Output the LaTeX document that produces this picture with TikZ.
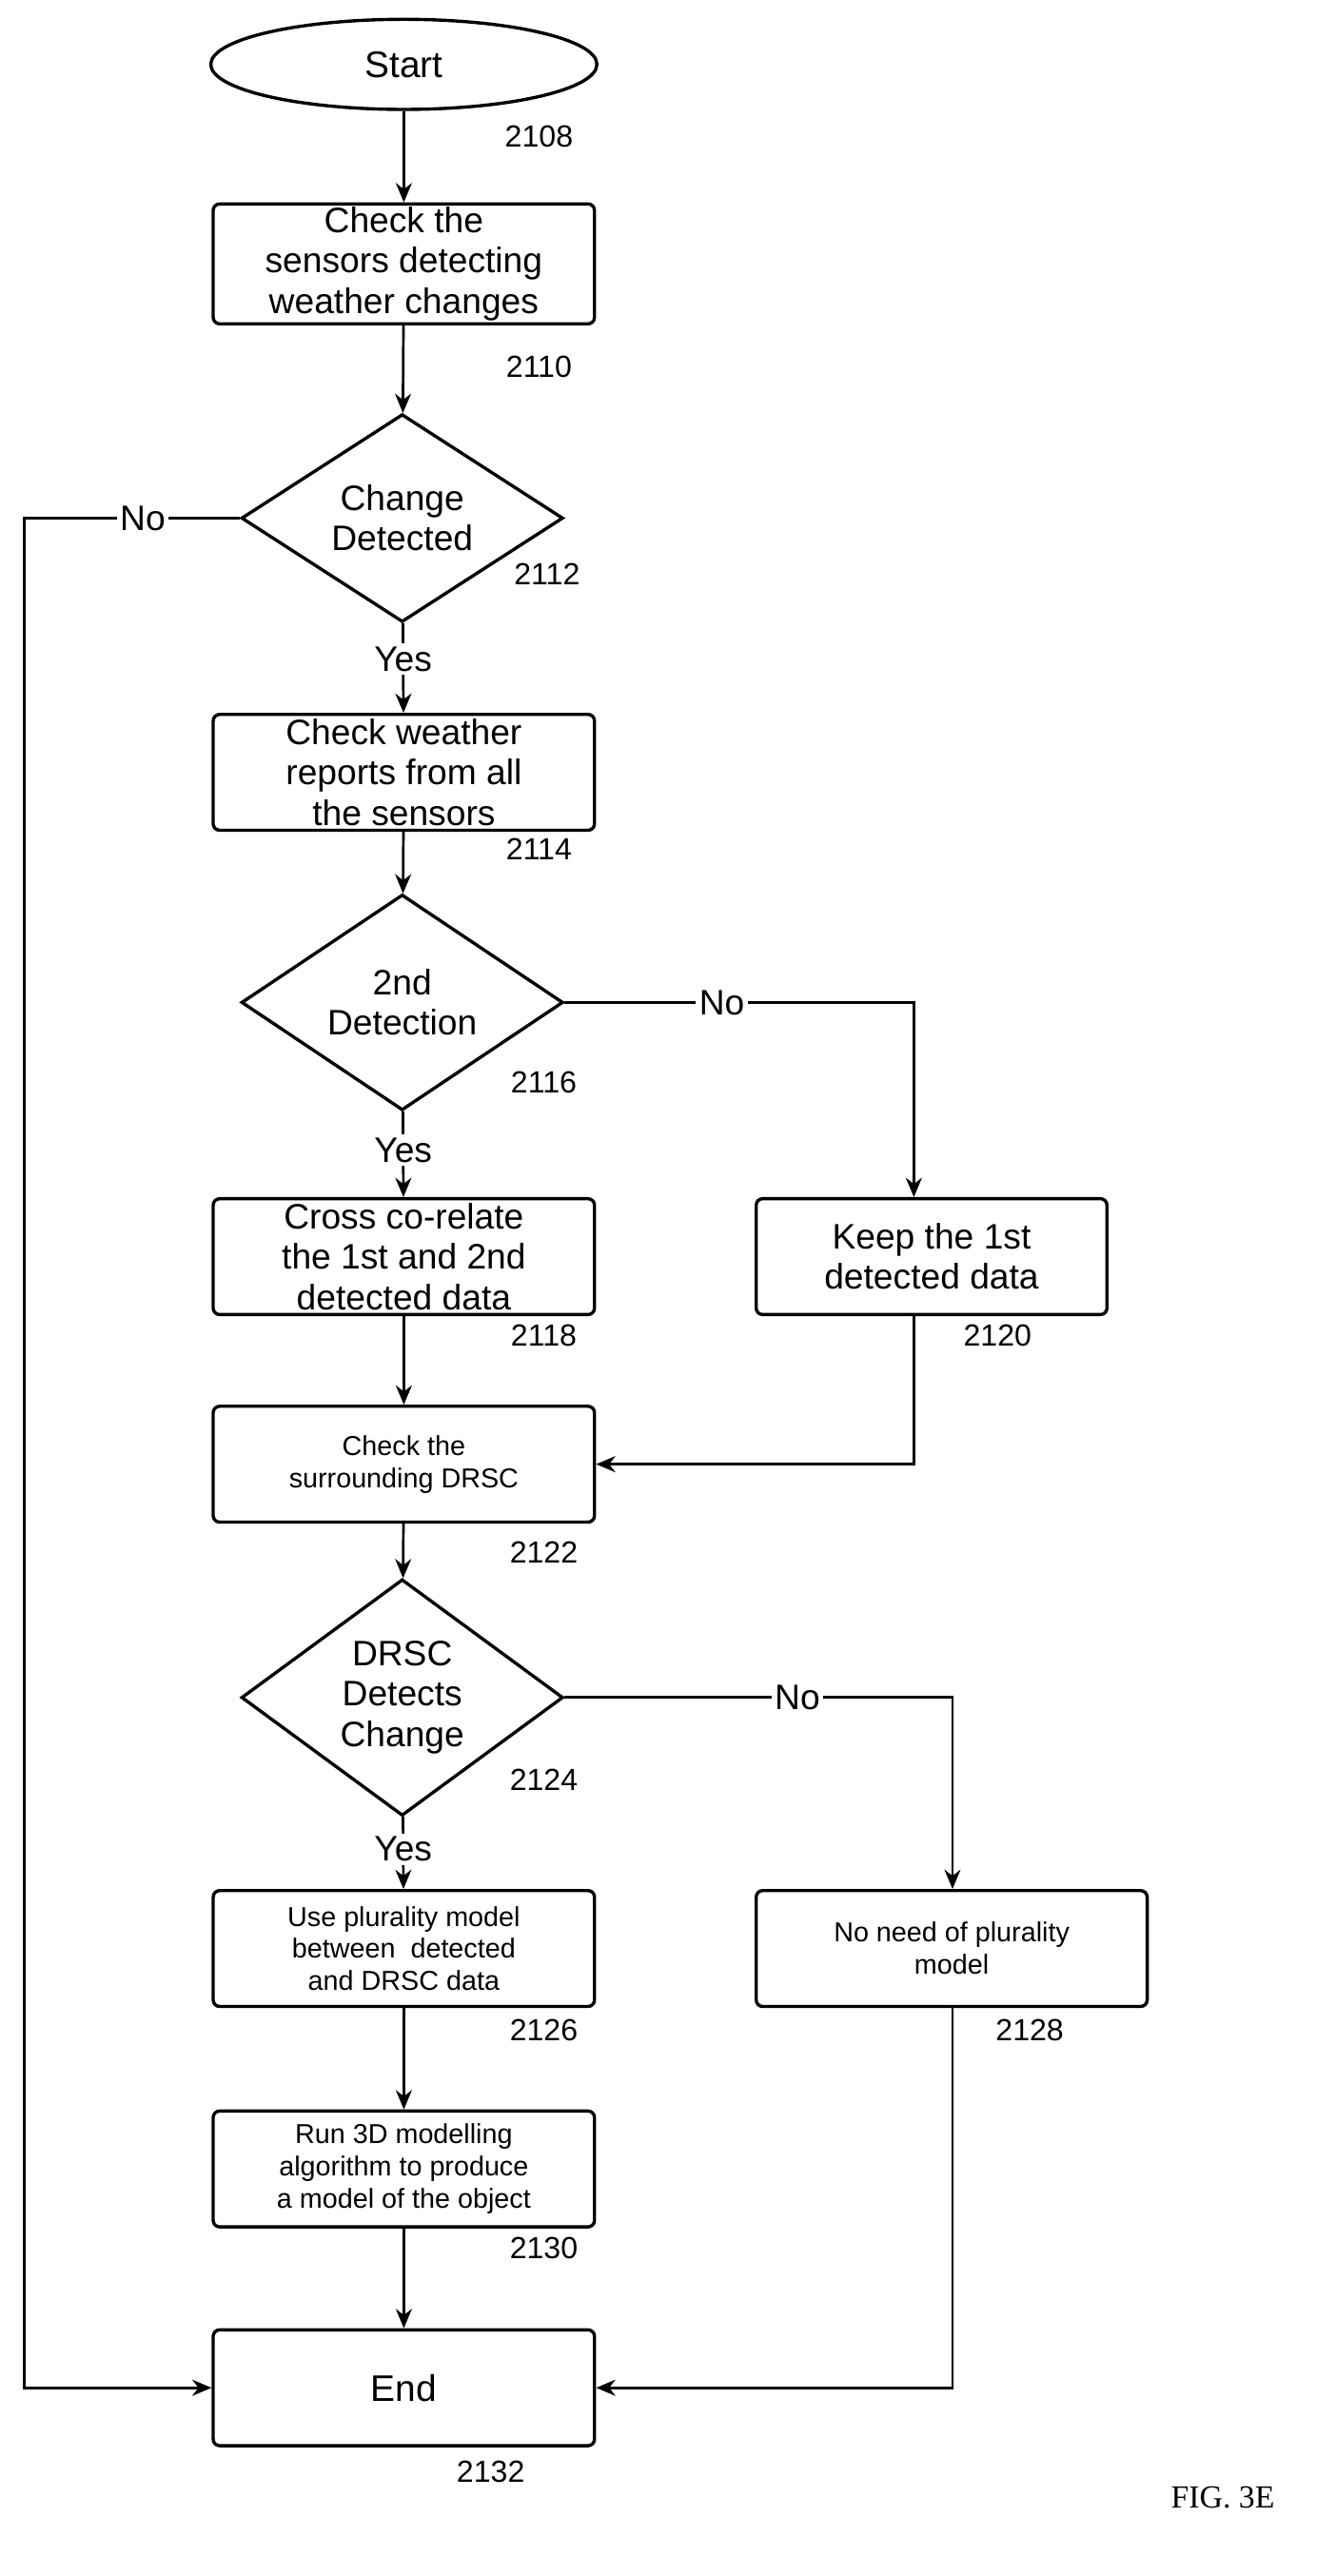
\documentclass[tikz,border=0pt]{standalone}
\usepackage{fontspec}
\setmainfont{Liberation Sans}
\newfontfamily\figfont{Liberation Serif}
\usetikzlibrary{shapes.geometric,arrows.meta}
\begin{document}
\begin{tikzpicture}[x=0.5pt,y=-0.5pt,
  box/.style={draw,line width=1pt,rounded corners=2pt,minimum width=118.5pt,minimum height=36pt,align=center,inner sep=1pt,font=\fontsize{11}{12.5}\selectfont},
  sbox/.style={box,font=\fontsize{8.5}{10}\selectfont},
  dia/.style={draw,line width=1pt,diamond,minimum width=100pt,minimum height=63pt,inner sep=0pt,align=center,font=\fontsize{11}{12.5}\selectfont},
  lab/.style={font=\fontsize{9.5}{11}\selectfont},
  ln/.style={line width=0.8pt},
  ar/.style={ln,-{Stealth[length=6pt,width=5pt]}}]
\useasboundingbox (0,0) rectangle (830,1601);
\node[draw,line width=1pt,ellipse,minimum width=120pt,minimum height=28pt,font=\fontsize{11.5}{13}\selectfont] (start) at (251,40) {Start};
\node[lab] at (335,85) {2108};
\node[box] (b1) at (251,164) {Check the\\sensors detecting\\weather changes};
\node[lab] at (335,228) {2110};
\node[dia] (d1) at (250,322) {Change\\Detected};
\node[lab] at (340,357) {2112};
\node[box] (b2) at (251,480) {Check weather\\reports from all\\the sensors};
\node[lab] at (335,528) {2114};
\node[dia] (d2) at (250,623) {2nd\\Detection};
\node[lab] at (338,673) {2116};
\node[box] (b3) at (251,781) {Cross co-relate\\the 1st and 2nd\\detected data};
\node[lab] at (338,830) {2118};
\node[box,minimum width=109pt] (b4) at (579,781) {Keep the 1st\\detected data};
\node[lab] at (620,830) {2120};
\node[sbox] (b5) at (251,910) {Check the\\surrounding DRSC};
\node[lab] at (338,965) {2122};
\node[dia] (d3) at (250,1055) {DRSC\\Detects\\Change};
\node[lab] at (338,1106) {2124};
\node[sbox] (b6) at (251,1211) {Use plurality model\\between\ \ detected\\and DRSC data};
\node[lab] at (338,1262) {2126};
\node[sbox,minimum width=121.5pt] (b7) at (591.5,1211) {No need of plurality\\model};
\node[lab] at (640,1262) {2128};
\node[sbox] (b8) at (251,1348) {Run 3D modelling\\algorithm to produce\\a model of the object};
\node[lab] at (338,1397) {2130};
\node[box,font=\fontsize{11.5}{13}\selectfont] (end) at (251,1484) {End};
\node[lab] at (305,1536) {2132};
\node[font=\figfont\fontsize{10}{12}\selectfont] at (760,1552) {FIG. 3E};
\coordinate (c1) at (15,322);
\coordinate (c2) at (15,1484);
\coordinate (c3) at (568,623);
\coordinate (c4) at (568,910);
\coordinate (c5) at (592,1055);
\coordinate (c6) at (592,1484);
\draw[ar] (start) -- (b1);
\draw[ar] (b1) -- (d1);
\draw[ar] (d1) -- node[fill=white,lab,font=\fontsize{11}{12}\selectfont,inner sep=1pt,pos=0.4]{Yes} (b2);
\draw[ar] (b2) -- (d2);
\draw[ar] (d2) -- node[fill=white,font=\fontsize{11}{12}\selectfont,inner sep=1pt,pos=0.45]{Yes} (b3);
\draw[ar] (b3) -- (b5);
\draw[ar] (b5) -- (d3);
\draw[ar] (d3) -- node[fill=white,font=\fontsize{11}{12}\selectfont,inner sep=1pt,pos=0.45]{Yes} (b6);
\draw[ar] (b6) -- (b8);
\draw[ar] (b8) -- (end);
\draw[ar] (d1.west) -- node[fill=white,font=\fontsize{11}{12}\selectfont,inner sep=1pt,pos=0.45]{No} (c1) -- (c2) -- (end.west);
\draw[ar] (d2.east) -- node[fill=white,font=\fontsize{11}{12}\selectfont,inner sep=1pt,pos=0.45]{No} (c3) -- (b4.north -| c3);
\draw[ar] (b4.south -| c4) -- (c4) -- (b5.east);
\draw[ar] (d3.east) -- node[fill=white,font=\fontsize{11}{12}\selectfont,inner sep=1pt,pos=0.6]{No} (c5) -- (b7.north -| c5);
\draw[ar] (b7.south -| c6) -- (c6) -- (end.east);
\end{tikzpicture}
\end{document}
